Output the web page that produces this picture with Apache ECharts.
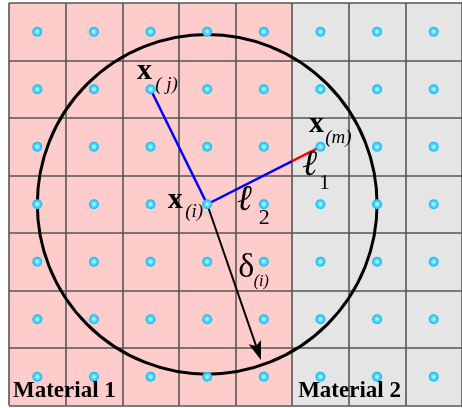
<!DOCTYPE html>
<html>
<head>
<meta charset="utf-8">
<script src="https://cdn.jsdelivr.net/npm/echarts@6/dist/echarts.min.js"></script>
<style>
  html, body { margin: 0; padding: 0; background: #fff; }
  #chartmain { width: 462px; height: 408px; }
</style>
</head>
<body>
<div id="chartmain"></div>
<script>
// cell centres of the particle grid (cell units)
var cols = [0.5, 1.5, 2.5, 3.5, 4.5, 5.5, 6.5, 7.5];
var rows = [0.5, 1.5, 2.5, 3.5, 4.5, 5.5, 6.5];
// material regions: [x0, x1] in cells, full height
var materials = ['Material 1', 'Material 2'];
var materialSpans = [[0, 5], [5, 8]];
var materialColors = ['#ffcccc', '#e5e5e5'];
// key points
var xi = [3.5, 3.5];
var xj = [2.5, 1.5];
var xm = [5.5, 2.5];
var interfacePt = [5, 2.75];
var arrowTip = [4.45, 6.21];
var horizon = 3;

var serif = '"Liberation Serif", "Times New Roman", serif';

var dots = [];
for (var i = 0; i < cols.length; i++) {
	for (var j = 0; j < rows.length; j++) {
		dots.push([cols[i], rows[j]]);
	}
}

function lbl(at, text, off, style) {
	var l = {
		show: true,
		position: 'inside',
		formatter: text,
		offset: off,
		color: '#000',
		fontFamily: serif
	};
	for (var k in style) l[k] = style[k];
	return { value: at, label: l };
}

var labels = [
	lbl(xj, 'x', [-6, -18], { fontSize: 30, fontWeight: 'bold' }),
	lbl(xj, '( j)', [16, -4], { fontSize: 19, fontStyle: 'italic' }),
	lbl(xi, 'x', [-32, -4], { fontSize: 30, fontWeight: 'bold' }),
	lbl(xi, '(i)', [-13, 8], { fontSize: 19, fontStyle: 'italic' }),
	lbl(xm, 'x', [-4, -23], { fontSize: 30, fontWeight: 'bold' }),
	lbl(xm, '(m)', [18, -9], { fontSize: 19, fontStyle: 'italic' }),
	lbl(xm, 'ℓ', [-11, 19], { fontSize: 36, fontStyle: 'italic' }),
	lbl(xm, '1', [4, 36], { fontSize: 22 }),
	lbl(xi, 'ℓ', [37, -4], { fontSize: 36, fontStyle: 'italic' }),
	lbl(xi, '2', [57, 14], { fontSize: 22 }),
	lbl(xi, 'δ', [39, 64], { fontSize: 34 }),
	lbl(xi, '(i)', [54, 78], { fontSize: 16, fontStyle: 'italic' }),
	lbl([materialSpans[0][0], 7], materials[0], [4, -14], { fontSize: 23, fontWeight: 'bold', align: 'left' }),
	lbl([materialSpans[1][0], 7], materials[1], [6, -14], { fontSize: 23, fontWeight: 'bold', align: 'left' })
];

var option = {
	animation: false,
	grid: {
		left: 9,
		top: 3,
		width: 460,
		height: 402.5
	},
	xAxis: {
		type: 'value',
		min: 0,
		max: 8,
		interval: 1,
		z: 1,
		axisLine: { show: false },
		axisTick: { show: false },
		axisLabel: { show: false },
		splitLine: { show: true, lineStyle: { color: '#555', width: 1.6 } }
	},
	yAxis: {
		type: 'value',
		min: 0,
		max: 7,
		interval: 1,
		inverse: true,
		z: 1,
		axisLine: { show: false },
		axisTick: { show: false },
		axisLabel: { show: false },
		splitLine: { show: true, lineStyle: { color: '#555', width: 1.6 } }
	},
	series: [
		{
			// material backgrounds
			type: 'custom',
			z: 0,
			silent: true,
			data: materialSpans.map(function(s, k) { return [s[0], 0, s[1], 7, k]; }),
			renderItem: function(params, api) {
				var p0 = api.coord([api.value(0), api.value(1)]);
				var p1 = api.coord([api.value(2), api.value(3)]);
				return {
					type: 'rect',
					shape: { x: p0[0], y: Math.min(p0[1], p1[1]), width: p1[0] - p0[0], height: Math.abs(p1[1] - p0[1]) },
					style: { fill: materialColors[api.value(4)] }
				};
			}
		},
		{
			// horizon circle
			type: 'custom',
			z: 3,
			silent: true,
			data: [[xi[0], xi[1], horizon]],
			renderItem: function(params, api) {
				var c = api.coord([api.value(0), api.value(1)]);
				var r = api.size([api.value(2), 0])[0];
				return {
					type: 'circle',
					shape: { cx: c[0], cy: c[1], r: r },
					style: { fill: 'none', stroke: '#000', lineWidth: 3 }
				};
			}
		},
		{
			type: 'line',
			z: 4,
			symbol: 'none',
			data: [xi, xj],
			lineStyle: { color: '#0000ff', width: 2.5 }
		},
		{
			type: 'line',
			z: 4,
			symbol: 'none',
			data: [xi, interfacePt],
			lineStyle: { color: '#0000ff', width: 2.5 }
		},
		{
			type: 'line',
			z: 4,
			symbol: 'none',
			data: [interfacePt, xm],
			lineStyle: { color: '#ff0000', width: 2.5 }
		},
		{
			// delta arrow
			type: 'custom',
			z: 4,
			silent: true,
			data: [[xi[0], xi[1], arrowTip[0], arrowTip[1]]],
			renderItem: function(params, api) {
				var a = api.coord([api.value(0), api.value(1)]);
				var b = api.coord([api.value(2), api.value(3)]);
				var dx = b[0] - a[0], dy = b[1] - a[1];
				var len = Math.sqrt(dx * dx + dy * dy);
				var ux = dx / len, uy = dy / len;
				var L = 19, W = 6.5;
				var bx = b[0] - ux * L, by = b[1] - uy * L;
				var nx = b[0] - ux * (L - 4), ny = b[1] - uy * (L - 4);
				return {
					type: 'group',
					children: [
						{
							type: 'line',
							shape: { x1: a[0], y1: a[1], x2: nx, y2: ny },
							style: { stroke: '#000', lineWidth: 2 }
						},
						{
							type: 'polygon',
							shape: { points: [b, [bx - uy * W, by + ux * W], [nx, ny], [bx + uy * W, by - ux * W]] },
							style: { fill: '#000' }
						}
					]
				};
			}
		},
		{
			type: 'scatter',
			z: 5,
			symbolSize: 10,
			data: dots,
			itemStyle: {
				opacity: 1,
				color: {
					type: 'radial', x: 0.5, y: 0.5, r: 0.5,
					colorStops: [
						{ offset: 0, color: '#d9faff' },
						{ offset: 0.5, color: '#55d8fb' },
						{ offset: 1, color: '#0cb8f2' }
					]
				}
			}
		},
		{
			type: 'scatter',
			z: 6,
			symbolSize: 0,
			itemStyle: { opacity: 1 },
			data: labels
		}
	]
};

var myChart = echarts.init(document.getElementById('chartmain'));
myChart.setOption(option);
</script>
</body>
</html>
